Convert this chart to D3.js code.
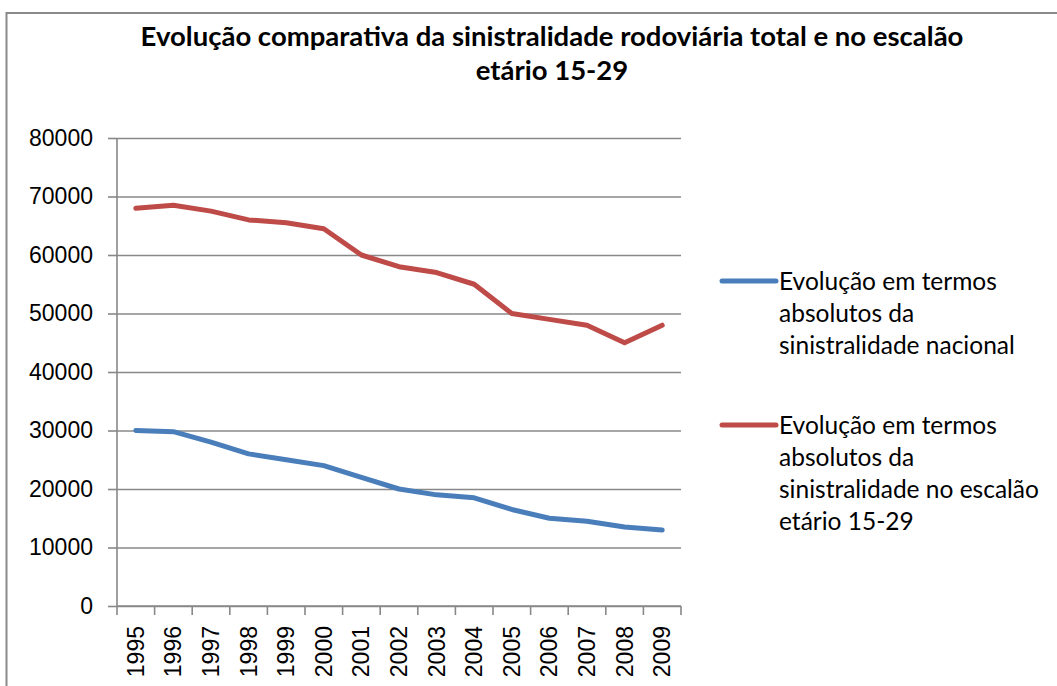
<!DOCTYPE html>
<html>
<head>
<meta charset="utf-8">
<script src="https://cdn.jsdelivr.net/npm/d3@7"></script>
<style>
  html, body { margin: 0; padding: 0; background: #fff; overflow: hidden; }
  svg { display: block; }
</style>
</head>
<body>
<svg id="chart" width="1057" height="686"></svg>
<script>
// chart data
const years = ["1995", "1996", "1997", "1998", "1999", "2000", "2001", "2002",
               "2003", "2004", "2005", "2006", "2007", "2008", "2009"];
const nacional = [30000, 29800, 28000, 26000, 25000, 24000, 22000, 20000,
                  19000, 18500, 16500, 15000, 14500, 13500, 13000];
const escalao = [68000, 68500, 67500, 66000, 65500, 64500, 60000, 58000,
                 57000, 55000, 50000, 49000, 48000, 45000, 48000];
const yTicks = [0, 10000, 20000, 30000, 40000, 50000, 60000, 70000, 80000];
const titleLines = ["Evolução comparativa da sinistralidade rodoviária total e no escalão",
                    "etário 15-29"];
const legendItems = [
  { name: "nacional", lines: ["Evolução em termos", "absolutos da", "sinistralidade nacional"] },
  { name: "escalao", lines: ["Evolução em termos", "absolutos da", "sinistralidade no escalão", "etário 15-29"] }
];

// layout
const margin = { top: 138, left: 117, right: 376, bottom: 80 };
const W = 1057, H = 686;
const width = W - margin.left - margin.right;   // plot width
const height = H - margin.top - margin.bottom;  // plot height
const gridColor = "#888888";
const colors = { nacional: "#4a7ebb", escalao: "#be4b48" };
const uiFont = "Lato, 'Open Sans', sans-serif";
const axisFont = "'Liberation Sans', Arial, sans-serif";

const svg = d3.select("#chart");

// outer chart border (runs off the picture to the right and bottom)
svg.append("rect")
  .attr("x", 6.5).attr("y", 13)
  .attr("width", 1200).attr("height", 900)
  .attr("fill", "none")
  .attr("stroke", "#8a8a8a")
  .attr("stroke-width", 2);

// scales
const x = d3.scaleBand().domain(years).range([0, width]).padding(0);
const y = d3.scaleLinear().domain([0, 80000]).range([height, 0]);

const g = svg.append("g")
  .attr("transform", `translate(${margin.left},${margin.top})`);

// gridlines
g.append("g")
  .call(d3.axisLeft(y).tickValues(yTicks).tickSize(-width).tickFormat(""))
  .call(a => a.select(".domain").remove())
  .call(a => a.selectAll("line").attr("stroke", gridColor).attr("stroke-width", 1.6));

// y axis with labels
g.append("g")
  .call(d3.axisLeft(y).tickValues(yTicks).tickSize(9).tickPadding(15).tickFormat(d3.format("d")))
  .call(a => a.select(".domain").attr("stroke", gridColor).attr("stroke-width", 1.6)
                .attr("d", `M0,${height}V0`))
  .call(a => a.selectAll("line").attr("stroke", gridColor).attr("stroke-width", 1.6))
  .call(a => a.selectAll("text")
                .attr("font-family", axisFont)
                .attr("font-size", 23)
                .attr("fill", "#000"));

// x axis: ticks on the band edges, labels in the band centres
const xAxis = g.append("g").attr("transform", `translate(0,${height})`);
xAxis.append("line")
  .attr("x1", 0).attr("x2", width)
  .attr("stroke", gridColor).attr("stroke-width", 1.6);
xAxis.selectAll(".tick-edge")
  .data(years.concat(["end"]))
  .enter()
  .append("line")
  .attr("class", "tick-edge")
  .attr("x1", d => d === "end" ? width : x(d))
  .attr("x2", d => d === "end" ? width : x(d))
  .attr("y1", 0).attr("y2", 9)
  .attr("stroke", gridColor).attr("stroke-width", 1.6);
xAxis.selectAll(".year")
  .data(years)
  .enter()
  .append("text")
  .attr("class", "year")
  .attr("transform", d => `translate(${x(d) + x.bandwidth() / 2 + 8},${20}) rotate(-90)`)
  .attr("text-anchor", "end")
  .attr("font-family", axisFont)
  .attr("font-size", 23)
  .attr("fill", "#000")
  .text(d => d);

// lines
const line = d3.line()
  .x((d, i) => x(years[i]) + x.bandwidth() / 2)
  .y(d => y(d));

[["nacional", nacional], ["escalao", escalao]].forEach(([name, values]) => {
  g.append("path")
    .datum(values)
    .attr("fill", "none")
    .attr("stroke", colors[name])
    .attr("stroke-width", 5)
    .attr("stroke-linejoin", "round")
    .attr("stroke-linecap", "round")
    .attr("d", line);
});

// title
const title = svg.append("text")
  .attr("text-anchor", "middle")
  .attr("font-family", uiFont)
  .attr("font-weight", "bold")
  .attr("font-size", 27.5)
  .attr("fill", "#000");
titleLines.forEach((t, i) => {
  title.append("tspan")
    .attr("x", 552)
    .attr("y", 46 + i * 34)
    .text(t);
});

// legend
const legendTop = [281, 425];
legendItems.forEach((item, k) => {
  const lg = svg.append("g").attr("transform", `translate(722,${legendTop[k]})`);
  lg.append("line")
    .attr("x1", 0).attr("x2", 54)
    .attr("stroke", colors[item.name])
    .attr("stroke-width", 5)
    .attr("stroke-linecap", "round");
  const txt = lg.append("text")
    .attr("font-family", uiFont)
    .attr("font-size", 24.5)
    .attr("fill", "#000");
  item.lines.forEach((t, i) => {
    txt.append("tspan")
      .attr("x", 57)
      .attr("y", 9 + i * 32)
      .text(t);
  });
});
</script>
</body>
</html>
